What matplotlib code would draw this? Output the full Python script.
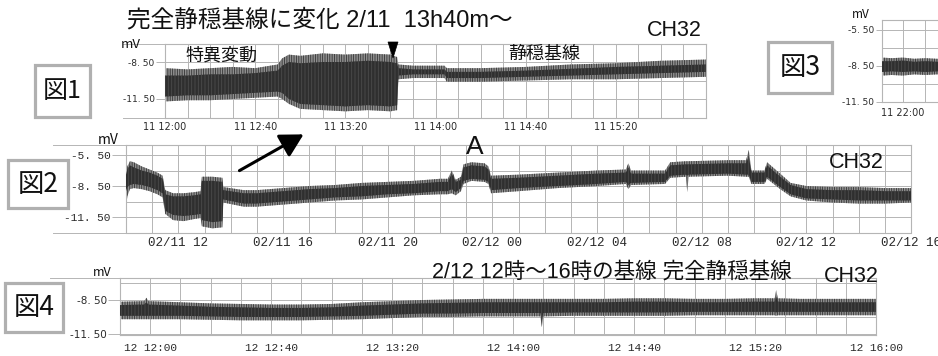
import matplotlib
matplotlib.use('Agg')
import matplotlib.pyplot as plt
import matplotlib.transforms as mtrans
from matplotlib.patches import Rectangle, Polygon, FancyArrowPatch
from matplotlib.lines import Line2D

plt.rcParams['font.family'] = ['Noto Sans CJK JP', 'DejaVu Sans']
plt.rcParams['hatch.linewidth'] = 0.6

# ---------------- data ----------------
# Fig.1  minutes after 2/11 12:00, mV
p1_t       = [0, 10, 20, 30, 40, 50, 52, 55, 60, 70, 80, 90, 100, 103, 103.5, 110, 120, 124, 125, 140, 160, 180, 200, 220, 240]
p1_out_hi  = [-9.0, -9.1, -9.0, -8.9, -9.0, -8.7, -8.2, -7.9, -8.0, -7.8, -7.9, -7.8, -7.9, -8.1, -8.7, -8.8, -8.8, -8.8, -9.0, -9.0, -8.9, -8.7, -8.6, -8.4, -8.3]
p1_out_lo  = [-11.7, -11.6, -11.6, -11.5, -11.4, -11.3, -11.5, -11.9, -12.3, -12.4, -12.5, -12.4, -12.5, -12.4, -9.9, -9.8, -9.8, -9.8, -10.1, -10.1, -10.0, -9.9, -9.9, -9.8, -9.7]
p1_core_hi = [-9.6, -9.6, -9.5, -9.5, -9.4, -9.2, -8.8, -8.5, -8.6, -8.5, -8.5, -8.4, -8.5, -8.6, -9.0, -9.1, -9.1, -9.1, -9.3, -9.3, -9.2, -9.05, -8.9, -8.8, -8.7]
p1_core_lo = [-11.3, -11.2, -11.2, -11.1, -11.0, -10.9, -11.0, -11.5, -11.9, -12.0, -12.1, -12.0, -12.1, -12.0, -9.6, -9.5, -9.5, -9.5, -9.8, -9.8, -9.7, -9.6, -9.5, -9.4, -9.3]
p1_xticks  = [0, 40, 80, 120, 160, 200]
p1_xlabels = ['11 12:00', '11 12:40', '11 13:20', '11 14:00', '11 14:40', '11 15:20']

# Fig.2  hours after 2/11 00:00, mV
p2_t       = [10.0, 10.05, 10.15, 10.3, 10.6, 10.9, 11.2, 11.4, 11.5, 11.8, 12.2, 12.6, 12.85, 12.9, 13.3, 13.68, 13.72,
              14.5, 15.0, 16.0, 17.0, 18.0, 19.0, 20.0, 21.0, 22.0, 22.3, 22.45, 22.6, 22.8, 22.9, 23.2, 23.7, 23.85, 23.95,
              25.0, 26.5, 28.0, 29.1, 29.2, 29.3, 30.6, 30.8, 31.4, 31.45, 31.5, 33.0, 33.7, 33.8, 33.9, 34.4, 34.5, 35.0,
              35.4, 36.0, 37.0, 38.0, 39.0, 40.0]
p2_out_hi  = [-7.2, -6.6, -6.1, -6.2, -6.6, -6.9, -7.2, -7.5, -8.9, -9.2, -9.2, -9.1, -9.0, -7.6, -7.6, -7.7, -8.6,
              -8.9, -8.9, -8.7, -8.5, -8.4, -8.2, -8.1, -8.0, -7.8, -7.8, -7.0, -7.9, -7.6, -6.4, -6.2, -6.3, -6.6, -7.5,
              -7.4, -7.2, -7.0, -6.9, -6.3, -7.0, -7.0, -6.2, -6.1, -6.1, -6.1, -6.0, -6.0, -5.0, -7.0, -7.0, -6.2, -7.3,
              -8.2, -8.5, -8.6, -8.6, -8.7, -8.7]
p2_out_lo  = [-10.6, -9.5, -8.8, -8.7, -8.8, -9.0, -9.3, -9.6, -11.2, -11.8, -11.9, -11.7, -11.6, -12.4, -12.6, -12.5, -10.1,
              -10.5, -10.5, -10.3, -10.1, -9.9, -9.8, -9.6, -9.4, -9.3, -9.3, -9.2, -9.4, -9.0, -8.3, -8.0, -8.1, -8.3, -9.2,
              -9.0, -8.7, -8.5, -8.3, -8.8, -8.4, -8.3, -7.7, -7.6, -9.1, -7.6, -7.5, -7.6, -7.6, -8.3, -8.3, -7.8, -8.8,
              -9.5, -9.9, -10.1, -10.2, -10.2, -10.1]
p2_core_hi = [-7.4, -6.9, -6.5, -6.7, -7.0, -7.2, -7.5, -7.8, -9.3, -9.5, -9.5, -9.4, -9.3, -8.0, -8.0, -8.1, -8.9,
              -9.2, -9.2, -9.0, -8.8, -8.7, -8.5, -8.4, -8.3, -8.1, -8.1, -7.3, -8.1, -7.9, -6.7, -6.5, -6.6, -6.9, -7.8,
              -7.7, -7.5, -7.3, -7.2, -6.7, -7.3, -7.3, -6.5, -6.4, -6.4, -6.4, -6.3, -6.3, -5.6, -7.2, -7.2, -6.5, -7.6,
              -8.4, -8.8, -8.9, -8.9, -9.0, -9.0]
p2_core_lo = [-9.0, -8.6, -8.4, -8.3, -8.4, -8.6, -8.9, -9.2, -10.9, -11.3, -11.4, -11.3, -11.2, -11.8, -12.0, -11.9, -9.8,
              -10.2, -10.2, -10.0, -9.8, -9.6, -9.5, -9.3, -9.2, -9.0, -9.0, -8.8, -9.1, -8.7, -8.0, -7.8, -7.9, -8.1, -8.9,
              -8.7, -8.5, -8.3, -8.1, -8.4, -8.2, -8.1, -7.5, -7.4, -7.5, -7.4, -7.3, -7.4, -7.4, -8.1, -8.1, -7.6, -8.6,
              -9.3, -9.7, -9.8, -9.9, -9.9, -9.9]
p2_xticks  = [12, 16, 20, 24, 28, 32, 36, 40]
p2_xlabels = ['02/11 12', '02/11 16', '02/11 20', '02/12 00', '02/12 04', '02/12 08', '02/12 12', '02/12 16']

# Fig.3  minutes after 2/11 21:00, mV
p3_t       = [50.7, 55, 60, 65, 70, 75, 80]
p3_out_hi  = [-7.8, -7.85, -7.8, -7.9, -7.85, -7.9, -7.9]
p3_out_lo  = [-9.3, -9.25, -9.3, -9.2, -9.25, -9.2, -9.2]
p3_core_hi = [-8.1, -8.1, -8.05, -8.15, -8.1, -8.15, -8.15]
p3_core_lo = [-9.0, -8.95, -9.0, -8.95, -9.0, -8.95, -8.95]
p3_xticks  = [60]
p3_xlabels = ['11 22:00']

# Fig.4  minutes after 2/12 12:00, mV
p4_t       = [-10, -2, -1.3, -0.6, 10, 20, 30, 40, 50, 60, 70, 80, 90, 100, 110, 120, 129, 129.5, 130, 140, 150,
              160, 170, 180, 190, 200, 206.5, 207, 207.5, 215, 225, 240]
p4_out_hi  = [-8.65, -8.6, -8.3, -8.6, -8.7, -8.8, -8.85, -8.9, -8.9, -8.85, -8.7, -8.6, -8.5, -8.45, -8.4, -8.4, -8.4, -8.4, -8.4, -8.4, -8.4,
              -8.35, -8.35, -8.4, -8.4, -8.35, -8.35, -7.6, -8.35, -8.4, -8.4, -8.4]
p4_out_lo  = [-10.2, -10.2, -10.2, -10.2, -10.2, -10.25, -10.3, -10.3, -10.3, -10.25, -10.2, -10.1, -10.0, -10.0, -9.95, -9.95, -9.95, -10.9, -9.95, -9.9, -9.9,
              -9.9, -9.9, -9.85, -9.85, -9.85, -9.85, -9.9, -9.85, -9.85, -9.85, -9.85]
p4_core_hi = [-8.95, -8.9, -8.7, -8.9, -9.0, -9.1, -9.15, -9.2, -9.2, -9.15, -9.0, -8.9, -8.8, -8.75, -8.7, -8.7, -8.7, -8.7, -8.7, -8.7, -8.7,
              -8.65, -8.65, -8.7, -8.7, -8.65, -8.65, -8.2, -8.65, -8.7, -8.7, -8.7]
p4_core_lo = [-9.9, -9.9, -9.9, -9.9, -9.9, -9.95, -10.0, -10.0, -10.0, -9.95, -9.9, -9.8, -9.7, -9.7, -9.65, -9.65, -9.65, -10.3, -9.65, -9.6, -9.6,
              -9.6, -9.6, -9.55, -9.55, -9.55, -9.55, -9.6, -9.55, -9.55, -9.55, -9.55]
p4_xticks  = [0, 40, 80, 120, 160, 200, 240]
p4_xlabels = ['12 12:00', '12 12:40', '12 13:20', '12 14:00', '12 14:40', '12 15:20', '12 16:00']

# ---------------- figure ----------------
W, H = 938, 356
fig = plt.figure(figsize=(W / 100, H / 100), dpi=100)
fig.patch.set_facecolor('white')
PX = mtrans.Affine2D().scale(1 / W, -1 / H).translate(0, 1) + fig.transFigure

GRID = '#b5b5b5'
TXT = '#2a2a2a'
LAT = ['Liberation Sans', 'Noto Sans CJK JP']


def add_ax(l, t, r, b):
    return fig.add_axes([l / W, 1 - b / H, (r - l) / W, (b - t) / H])


def draw_band(ax, t, ohi, olo, chi, clo):
    ax.fill_between(t, olo, ohi, facecolor='#8e8e8e', edgecolor='#343434',
                    hatch='|||||||', lw=0, zorder=2)
    ax.fill_between(t, clo, chi, facecolor='#2f2f2f', edgecolor='#4c4c4c',
                    hatch='|||||', lw=0, zorder=3)


def style(ax, xlim, ylim, xgrid, ygrid, xt, xl, yt, yl, xfs, yfs, xfam, yfam, xpad, ytl):
    ax.set_xlim(xlim)
    ax.set_ylim(ylim)
    ax.set_facecolor('white')
    for x in xgrid:
        ax.axvline(x, color=GRID, lw=0.7, zorder=1)
    for y in ygrid:
        ax.axhline(y, color=GRID, lw=0.7, zorder=1)
    for s in ax.spines.values():
        s.set_color(GRID)
        s.set_linewidth(0.8)
    ax.set_xticks(xt)
    ax.set_xticklabels(xl, fontsize=xfs, family=xfam, color=TXT)
    ax.tick_params(axis='x', length=0, pad=xpad)
    ax.set_yticks(yt)
    ax.set_yticklabels(yl, fontsize=yfs, family=yfam, color=TXT)
    ax.tick_params(axis='y', length=ytl, width=0.7, color=GRID, pad=1)


def line_px(x0, y0, x1, y1, color=GRID, lw=0.7):
    fig.add_artist(Line2D([x0, x1], [y0, y1], transform=PX, color=color, lw=lw))


def box_label(l, t, r, b, text, fs):
    fig.add_artist(Rectangle((l, t), r - l, b - t, transform=PX, facecolor='white',
                             edgecolor='#b0b0b0', lw=2.3, zorder=5))
    fig.text((l + r) / 2 / W, 1 - (t + b) / 2 / H, text, fontsize=fs, ha='center',
             va='center', color='#111111', zorder=6)


def text_px(x, y, s, fs, ha='center', va='center', **kw):
    fig.text(x / W, 1 - y / H, s, fontsize=fs, ha=ha, va=va, color='#111111', **kw)


# ---- Fig.1 ----
ax1 = add_ax(165, 43.5, 706, 117.5)
style(ax1, (0, 240), (-13, -7), range(0, 241, 10), [-8.5, -10, -11.5],
      p1_xticks, p1_xlabels, [-8.5, -11.5], ['-8. 50', '-11. 50'],
      7, 6.5, 'DejaVu Sans', 'DejaVu Sans', 3.5, 6.5)
draw_band(ax1, p1_t, p1_out_hi, p1_out_lo, p1_core_hi, p1_core_lo)
line_px(123, 43.5, 165, 43.5)
line_px(123, 117.5, 165, 117.5)
text_px(131, 45, 'mV', 9.5)

# ---- Fig.2 ----
ax2 = add_ax(126, 144.7, 911, 232.5)
style(ax2, (10, 40), (-13, -4.5), range(10, 41), [-5.5, -7, -8.5, -10, -11.5],
      p2_xticks, p2_xlabels, [-5.5, -8.5, -11.5], ['-5. 50', '-8. 50', '-11. 50'],
      9, 8, 'Liberation Mono', 'Liberation Mono', 3.5, 10)
draw_band(ax2, p2_t, p2_out_hi, p2_out_lo, p2_core_hi, p2_core_lo)
line_px(53, 144.7, 126, 144.7)
line_px(53, 232.5, 126, 232.5)
text_px(108, 140, 'mV', 10)

# ---- Fig.3 ----
ax3 = add_ax(882, 20, 1200, 102)
style(ax3, (50.7, 191.8), (-11.5, -4.67), range(60, 191, 10), [-5.5, -7, -8.5, -10],
      p3_xticks, p3_xlabels, [-5.5, -8.5, -11.5], ['-5. 50', '-8. 50', '-11. 50'],
      7, 6.5, 'DejaVu Sans', 'DejaVu Sans', 4, 4.5)
draw_band(ax3, p3_t, p3_out_hi, p3_out_lo, p3_core_hi, p3_core_lo)
text_px(861, 14, 'mV', 8.5)

# ---- Fig.4 ----
ax4 = add_ax(120, 278, 876, 335)
style(ax4, (-10, 240), (-11.6, -6.55), range(0, 241, 10), [-7, -8.5, -10, -11.5],
      p4_xticks, p4_xlabels, [-8.5, -11.5], ['-8. 50', '-11. 50'],
      8, 7.5, 'Liberation Mono', 'DejaVu Sans', 6, 8.5)
draw_band(ax4, p4_t, p4_out_hi, p4_out_lo, p4_core_hi, p4_core_lo)
line_px(50, 278, 120, 278)
text_px(102, 272, 'mV', 9)

# ---- labels / annotations ----
text_px(127, 20, '完全静穏基線に変化 2/11  13h40m～', 17, ha='left', family=LAT)
text_px(221, 56, '特異変動', 13)
text_px(544, 54, '静穏基線', 13)
text_px(674, 31, 'CH32', 15.5, family=LAT)
text_px(475, 147, 'A', 19, family=LAT)
text_px(856, 162, 'CH32', 15.5, family=LAT)
text_px(432, 272, '2/12 12時～16時の基線 完全静穏基線', 15.5, ha='left', family=LAT)
text_px(851, 277, 'CH32', 15.5, family=LAT)

box_label(35, 65, 90, 117, '図1', 18)
box_label(8, 160, 68, 208, '図2', 19)
box_label(768, 42, 832, 93, '図3', 19)
box_label(5, 283, 63, 332, '図4', 19)

fig.add_artist(Polygon([(388, 42), (398, 42), (393, 58)], closed=True, transform=PX,
                       facecolor='black', edgecolor='black', lw=0.5, zorder=7))
fig.add_artist(FancyArrowPatch((237, 172), (306, 133), transform=PX,
                               arrowstyle='-|>,head_length=1.0,head_width=0.55',
                               mutation_scale=14, lw=2.2, color='black', zorder=7))

fig.savefig('out.png', dpi=100)
